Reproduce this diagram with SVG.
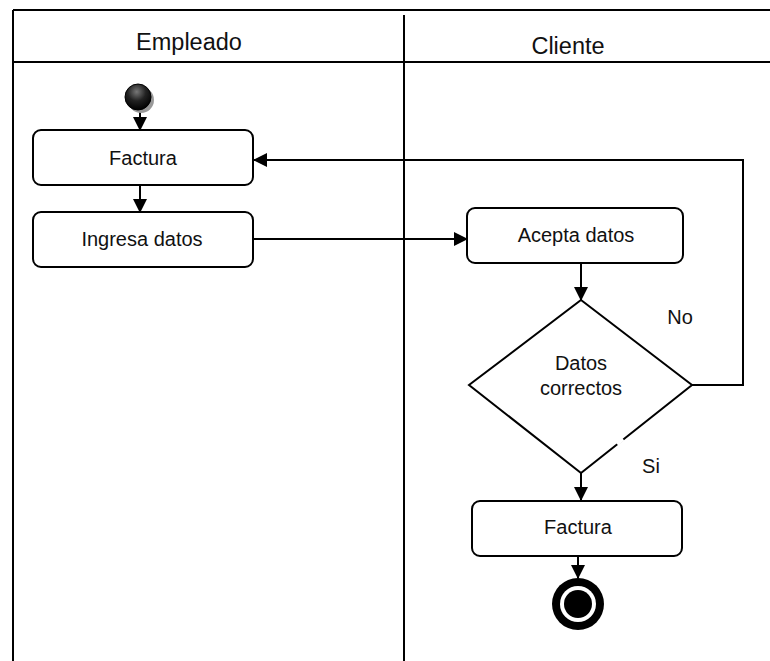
<svg xmlns="http://www.w3.org/2000/svg" width="770" height="661" viewBox="0 0 770 661">
<defs>
<style>
.frame{stroke:#000;stroke-width:2;fill:none}
.box{fill:#fff;stroke:#000;stroke-width:2}
.lbl{font-family:"Liberation Sans",Arial,sans-serif;font-size:20px;fill:#111;text-anchor:middle}
.hdr{font-family:"Liberation Sans",Arial,sans-serif;font-size:23.5px;fill:#111;text-anchor:middle}
.edge{stroke:#000;stroke-width:2;fill:none}
</style>
<marker id="arr" viewBox="0 0 14 14" refX="13" refY="7" markerWidth="14" markerHeight="14" markerUnits="userSpaceOnUse" orient="auto">
<path d="M0,0 L14,7 L0,14 Z" fill="#000"/>
</marker>
<radialGradient id="startGrad" cx="0.45" cy="0.3" r="0.7">
<stop offset="0" stop-color="#777"/>
<stop offset="0.5" stop-color="#222"/>
<stop offset="1" stop-color="#000"/>
</radialGradient>
</defs>
<rect width="770" height="661" fill="#fff"/>
<g id="swimlanes">
<line class="frame" x1="13" y1="10" x2="770" y2="10"/>
<line class="frame" x1="13" y1="10" x2="13" y2="661"/>
<line class="frame" x1="13" y1="62" x2="770" y2="62"/>
<line class="frame" x1="404" y1="15" x2="404" y2="661"/>
<text class="hdr" x="189" y="50">Empleado</text>
<text class="hdr" x="568" y="54">Cliente</text>
</g>
<g id="connectors">
<line class="edge" x1="140" y1="110" x2="140" y2="130" marker-end="url(#arr)"/>
<line class="edge" x1="140" y1="185" x2="140" y2="212" marker-end="url(#arr)"/>
<line class="edge" x1="253" y1="239" x2="467" y2="239" marker-end="url(#arr)"/>
<line class="edge" x1="581" y1="263" x2="581" y2="300" marker-end="url(#arr)"/>
<polyline class="edge" points="691,385 743,385 743,160 254,160" marker-end="url(#arr)"/>
<line class="edge" x1="581" y1="473" x2="581" y2="500" marker-end="url(#arr)"/>
<line class="edge" x1="578" y1="557" x2="578" y2="578" marker-end="url(#arr)"/>
</g>
<g id="start">
<circle cx="141" cy="100" r="13" fill="#999"/>
<circle cx="138" cy="97" r="13" fill="url(#startGrad)" stroke="#000" stroke-width="1"/>
</g>
<g id="factura1">
<rect class="box" x="33" y="130" width="220" height="55" rx="8"/>
<text class="lbl" x="143" y="165">Factura</text>
</g>
<g id="ingresa">
<rect class="box" x="33" y="212" width="220" height="55" rx="8"/>
<text class="lbl" x="142" y="246">Ingresa datos</text>
</g>
<g id="acepta">
<rect class="box" x="467" y="208" width="216" height="55" rx="8"/>
<text class="lbl" x="576" y="242">Acepta datos</text>
</g>
<g id="decision">
<polygon class="box" points="581,300 692,385 581,473 469,385"/>
<line x1="617" y1="444" x2="623" y2="439" stroke="#fff" stroke-width="4"/>
<text class="lbl" x="581" y="370">Datos</text>
<text class="lbl" x="581" y="395">correctos</text>
<text class="lbl" x="680" y="324">No</text>
<text class="lbl" x="651" y="473">Si</text>
</g>
<g id="factura2">
<rect class="box" x="472" y="501" width="210" height="55" rx="8"/>
<text class="lbl" x="578" y="534">Factura</text>
</g>
<g id="end">
<circle cx="578" cy="604" r="26" fill="#000"/>
<circle cx="578" cy="604" r="18" fill="#fff"/>
<circle cx="578" cy="604" r="14" fill="#000"/>
</g>
</svg>
